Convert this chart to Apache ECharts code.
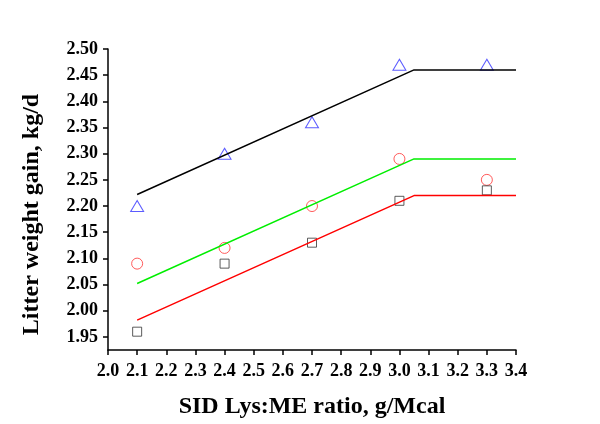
<!DOCTYPE html>
<html>
<head>
<meta charset="utf-8">
<script src="https://cdn.jsdelivr.net/npm/echarts@6/dist/echarts.min.js"></script>
<style>
  html, body { margin: 0; padding: 0; background: #fff; }
  #chart { width: 600px; height: 424px; }
</style>
</head>
<body>
<div id="chart"></div>
<script>
// observed points
var ratios = [2.1, 2.4, 2.7, 3.0, 3.3];
var triangleVals = [2.20, 2.30, 2.36, 2.47, 2.47];
var circleVals = [2.09, 2.12, 2.20, 2.29, 2.25];
var squareVals = [1.96, 2.09, 2.13, 2.21, 2.23];

// broken-line fits
var fitX = [2.1, 3.05, 3.4];
var blackFit = [2.222, 2.46, 2.46];
var greenFit = [2.052, 2.29, 2.29];
var redFit = [1.982, 2.22, 2.22];

// tick labels
var yTicks = [1.95, 2.00, 2.05, 2.10, 2.15, 2.20, 2.25, 2.30, 2.35, 2.40, 2.45, 2.50];
var xTicks = [2.0, 2.1, 2.2, 2.3, 2.4, 2.5, 2.6, 2.7, 2.8, 2.9, 3.0, 3.1, 3.2, 3.3, 3.4];

function pairs(xs, ys) {
    var out = [];
    for (var i = 0; i < xs.length; i++) {
        out.push([xs[i], ys[i]]);
    }
    return out;
}

var font = 'Liberation Serif';

var chart = echarts.init(document.getElementById('chart'));
var option = {
    animation: false,
    grid: { left: 108, right: 84, top: 49, bottom: 71 },
    xAxis: {
        type: 'value',
        min: 2.0,
        max: 3.4,
        name: 'SID Lys:ME ratio, g/Mcal',
        nameLocation: 'middle',
        nameGap: 45,
        nameTextStyle: { fontFamily: font, fontWeight: 'bold', fontSize: 24, color: '#000' },
        splitLine: { show: false },
        axisLine: { lineStyle: { color: '#000', width: 1.5 } },
        axisTick: { customValues: xTicks, length: 5, lineStyle: { color: '#000', width: 1.5 } },
        axisLabel: {
            customValues: xTicks,
            formatter: function (v) { return v.toFixed(1); },
            fontFamily: font, fontWeight: 'bold', fontSize: 18, color: '#000', margin: 12
        }
    },
    yAxis: {
        type: 'value',
        min: 1.925,
        max: 2.5,
        name: 'Litter weight gain, kg/d',
        nameLocation: 'middle',
        nameGap: 64,
        nameTextStyle: {
            fontFamily: font, fontWeight: 'bold', fontSize: 24, color: '#000',
            padding: [0, 30, 0, 0]
        },
        splitLine: { show: false },
        axisLine: { show: true, lineStyle: { color: '#000', width: 1.5 } },
        axisTick: { show: true, customValues: yTicks, length: 5, lineStyle: { color: '#000', width: 1.5 } },
        axisLabel: {
            customValues: yTicks,
            formatter: function (v) { return v.toFixed(2); },
            fontFamily: font, fontWeight: 'bold', fontSize: 18, color: '#000', margin: 10
        }
    },
    series: [
        {
            type: 'line', data: pairs(fitX, blackFit), symbol: 'none',
            lineStyle: { color: '#000', width: 1.5 }
        },
        {
            type: 'line', data: pairs(fitX, greenFit), symbol: 'none',
            lineStyle: { color: '#00ee00', width: 1.5 }
        },
        {
            type: 'line', data: pairs(fitX, redFit), symbol: 'none',
            lineStyle: { color: '#ff0000', width: 1.5 }
        },
        {
            type: 'scatter', data: pairs(ratios, triangleVals), symbol: 'triangle', symbolSize: [13, 11],
            itemStyle: { color: 'rgba(0,0,0,0)', borderColor: '#3333ff', borderWidth: 1 }
        },
        {
            type: 'scatter', data: pairs(ratios, circleVals), symbol: 'circle', symbolSize: 11,
            itemStyle: { color: 'rgba(0,0,0,0)', borderColor: '#ff3333', borderWidth: 1 }
        },
        {
            type: 'scatter', data: pairs(ratios, squareVals), symbol: 'rect', symbolSize: 9,
            itemStyle: { color: 'rgba(0,0,0,0)', borderColor: '#333', borderWidth: 1 }
        }
    ]
};
chart.setOption(option);
</script>
</body>
</html>
